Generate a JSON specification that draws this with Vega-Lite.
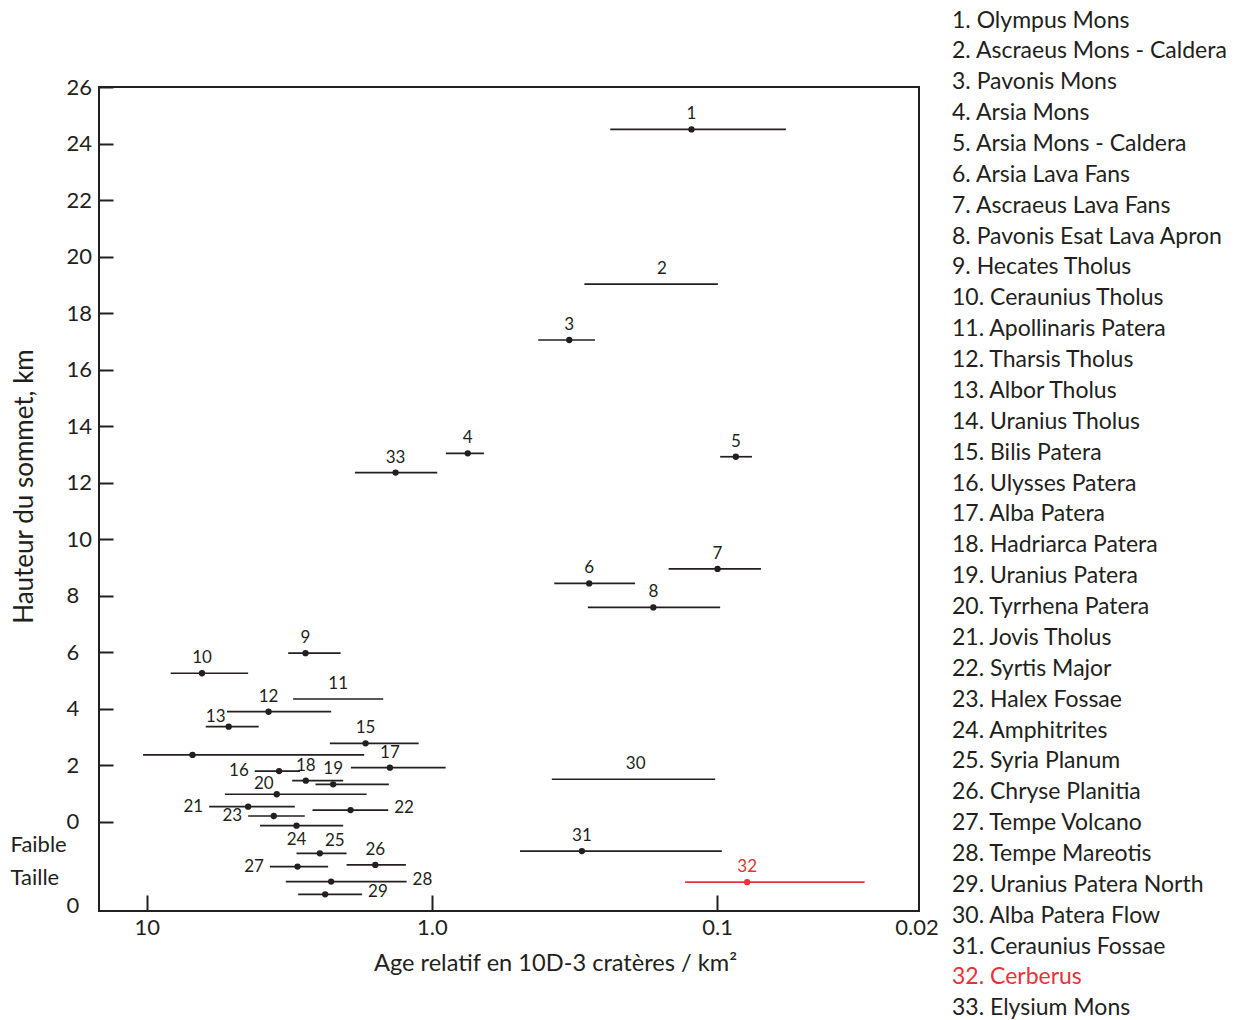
{
  "$schema": "https://vega.github.io/schema/vega-lite/v6.json",
  "width": 820,
  "height": 824,
  "autosize": "none",
  "padding": {"left": 99, "top": 87, "right": 324, "bottom": 109},
  "background": "white",
  "config": {"view": {"stroke": "#231f20", "strokeWidth": 2}, "font": "Lato"},
  "data": {"values": [
    {"id": 1, "name": "1. Olympus Mons", "age": 0.123, "ageMax": 0.237, "ageMin": 0.0574, "height": 24.5},
    {"id": 2, "name": "2. Ascraeus Mons - Caldera", "age": 0.156, "ageMax": 0.292, "ageMin": 0.0994, "height": 19.03},
    {"id": 3, "name": "3. Pavonis Mons", "age": 0.33, "ageMax": 0.424, "ageMin": 0.268, "height": 17.05},
    {"id": 4, "name": "4. Arsia Mons", "age": 0.749, "ageMax": 0.893, "ageMin": 0.657, "height": 13.04},
    {"id": 5, "name": "5. Arsia Mons - Caldera", "age": 0.086, "ageMax": 0.0976, "ageMin": 0.0755, "height": 12.92},
    {"id": 6, "name": "6. Arsia Lava Fans", "age": 0.281, "ageMax": 0.3725, "ageMin": 0.194, "height": 8.44},
    {"id": 7, "name": "7. Ascraeus Lava Fans", "age": 0.0997, "ageMax": 0.148, "ageMin": 0.0702, "height": 8.95},
    {"id": 8, "name": "8. Pavonis Esat Lava Apron", "age": 0.1674, "ageMax": 0.284, "ageMin": 0.0976, "height": 7.59},
    {"id": 9, "name": "9. Hecates Tholus", "age": 2.775, "ageMax": 3.19, "ageMin": 2.091, "height": 5.97},
    {"id": 10, "name": "10. Ceraunius Tholus", "age": 6.4, "ageMax": 8.24, "ageMin": 4.41, "height": 5.26},
    {"id": 11, "name": "11. Apollinaris Patera", "age": 2.132, "ageMax": 3.067, "ageMin": 1.482, "height": 4.35},
    {"id": 12, "name": "12. Tharsis Tholus", "age": 3.74, "ageMax": 5.23, "ageMin": 2.256, "height": 3.9},
    {"id": 13, "name": "13. Albor Tholus", "age": 5.16, "ageMax": 6.21, "ageMin": 4.05, "height": 3.37},
    {"id": 14, "name": "14. Uranius Tholus", "age": 6.91, "ageMax": 10.3, "ageMin": 1.728, "height": 2.37},
    {"id": 15, "name": "15. Bilis Patera", "age": 1.709, "ageMax": 2.28, "ageMin": 1.113, "height": 2.78},
    {"id": 16, "name": "16. Ulysses Patera", "age": 3.435, "ageMax": 4.18, "ageMin": 2.904, "height": 1.8},
    {"id": 17, "name": "17. Alba Patera", "age": 1.404, "ageMax": 1.924, "ageMin": 0.895, "height": 1.92},
    {"id": 18, "name": "18. Hadriarca Patera", "age": 2.768, "ageMax": 3.09, "ageMin": 2.047, "height": 1.46},
    {"id": 19, "name": "19. Uranius Patera", "age": 2.22, "ageMax": 2.56, "ageMin": 1.416, "height": 1.33},
    {"id": 20, "name": "20. Tyrrhena Patera", "age": 3.5, "ageMax": 5.32, "ageMin": 1.694, "height": 0.98},
    {"id": 21, "name": "21. Jovis Tholus", "age": 4.41, "ageMax": 6.04, "ageMin": 3.025, "height": 0.54},
    {"id": 22, "name": "22. Syrtis Major", "age": 1.929, "ageMax": 2.622, "ageMin": 1.423, "height": 0.42},
    {"id": 23, "name": "23. Halex Fossae", "age": 3.585, "ageMax": 4.41, "ageMin": 2.791, "height": 0.21},
    {"id": 24, "name": "24. Amphitrites", "age": 2.984, "ageMax": 4.01, "ageMin": 2.047, "height": -0.13},
    {"id": 25, "name": "25. Syria Planum", "age": 2.472, "ageMax": 2.984, "ageMin": 1.992, "height": -1.11},
    {"id": 26, "name": "26. Chryse Planitia", "age": 1.58, "ageMax": 1.992, "ageMin": 1.234, "height": -1.52},
    {"id": 27, "name": "27. Tempe Volcano", "age": 2.96, "ageMax": 3.7, "ageMin": 2.312, "height": -1.58},
    {"id": 28, "name": "28. Tempe Mareotis", "age": 2.256, "ageMax": 3.253, "ageMin": 1.227, "height": -2.11},
    {"id": 29, "name": "29. Uranius Patera North", "age": 2.368, "ageMax": 2.944, "ageMin": 1.757, "height": -2.56},
    {"id": 30, "name": "30. Alba Patera Flow", "age": 0.193, "ageMax": 0.38, "ageMin": 0.1016, "height": 1.51},
    {"id": 31, "name": "31. Ceraunius Fossae", "age": 0.298, "ageMax": 0.491, "ageMin": 0.0963, "height": -1.03},
    {"id": 32, "name": "32. Cerberus", "age": 0.0785, "ageMax": 0.1295, "ageMin": 0.0304, "height": -2.13},
    {"id": 33, "name": "33. Elysium Mons", "age": 1.341, "ageMax": 1.862, "ageMin": 0.958, "height": 12.36}
  ]},
  "encoding": {
    "x": {
      "field": "age", "type": "quantitative",
      "scale": {"type": "log", "domain": [0.0196, 14.7], "reverse": true, "nice": false},
      "axis": {
        "values": [10, 1, 0.1, 0.02],
        "labelExpr": "datum.value > 5 ? '10' : datum.value > 0.5 ? '1.0' : datum.value > 0.05 ? '0.1' : '0.02'",
        "tickSize": -16, "tickWidth": 2, "tickColor": "#231f20",
        "tickOpacity": {"condition": {"test": "datum.value < 0.05", "value": 0}, "value": 1},
        "labelPadding": 22, "labelFlush": false, "labelOverlap": false,
        "domain": false, "grid": false,
        "labelFont": "Lato", "labelFontSize": 22, "labelColor": "#231f20",
        "title": "Age relatif en 10D-3 cratères / km²",
        "titleFont": "Lato", "titleFontSize": 23.6, "titleFontWeight": "normal", "titleColor": "#231f20",
        "titleX": 456, "titleY": 59, "titleAlign": "center", "titleBaseline": "alphabetic"
      }
    },
    "y": {
      "field": "height", "type": "quantitative",
      "scale": {"domain": [-3.15, 26], "nice": false, "zero": false},
      "axis": {
        "values": [-2.97, -1.95, -0.81, 0, 2, 4, 6, 8, 10, 12, 14, 16, 18, 20, 22, 24, 26],
        "labelExpr": "datum.value < -2.5 ? '0' : datum.value < -1.5 ? 'Taille' : datum.value < -0.5 ? 'Faible' : datum.label",
        "labelAlign": "left", "labelBaseline": "middle",
        "labelPadding": {"condition": {"test": "datum.value < -0.5 && datum.value > -2.5", "value": 103}, "value": 47},
        "tickSize": -14, "tickWidth": 2, "tickColor": "#231f20",
        "tickOpacity": {"condition": {"test": "datum.value < -0.1", "value": 0}, "value": 1},
        "labelFlush": false, "labelOverlap": false,
        "domain": false, "grid": false,
        "labelFont": "Lato", "labelFontSize": 22, "labelColor": "#231f20",
        "title": "Hauteur du sommet, km",
        "titleFont": "Lato", "titleFontSize": 26, "titleFontWeight": "normal", "titleColor": "#231f20",
        "titleX": -67, "titleY": 399, "titleAngle": -90, "titleAlign": "center", "titleBaseline": "alphabetic"
      }
    },
    "color": {
      "field": "name", "type": "nominal",
      "sort": {"field": "id", "op": "min"},
      "scale": {"range": ["#231f20","#231f20","#231f20","#231f20","#231f20","#231f20","#231f20","#231f20","#231f20","#231f20","#231f20","#231f20","#231f20","#231f20","#231f20","#231f20","#231f20","#231f20","#231f20","#231f20","#231f20","#231f20","#231f20","#231f20","#231f20","#231f20","#231f20","#231f20","#231f20","#231f20","#231f20","#e63338","#231f20"]},
      "legend": {
        "orient": "none", "legendX": 830, "legendY": -78, "title": null,
        "symbolLimit": 50,
        "symbolOpacity": 0, "symbolSize": 0, "symbolStrokeWidth": 0,
        "labelFont": "Lato", "labelFontSize": 23, "labelColor": "#231f20", "labelLimit": 400,
        "labelOffset": 0, "rowPadding": 6.87, "padding": 0,
        "encode": {"labels": {"update": {"fill": {"signal": "datum.value == '32. Cerberus' ? '#e63338' : '#231f20'"}}}}
      }
    }
  },
  "layer": [
    {
      "mark": {"type": "rule", "strokeWidth": 1.7},
      "encoding": {
        "x": {"field": "ageMax", "type": "quantitative", "scale": {"type": "log", "domain": [0.0196, 14.7], "reverse": true, "nice": false},
          "axis": {
            "values": [10, 1, 0.1, 0.02],
            "labelExpr": "datum.value > 5 ? '10' : datum.value > 0.5 ? '1.0' : datum.value > 0.05 ? '0.1' : '0.02'",
            "tickSize": -16, "tickWidth": 2, "tickColor": "#231f20",
            "tickOpacity": {"condition": {"test": "datum.value < 0.05", "value": 0}, "value": 1},
            "labelPadding": 22, "labelFlush": false, "labelOverlap": false,
            "domain": false, "grid": false,
            "labelFont": "Lato", "labelFontSize": 22, "labelColor": "#231f20",
            "title": "Age relatif en 10D-3 cratères / km²",
            "titleFont": "Lato", "titleFontSize": 23.6, "titleFontWeight": "normal", "titleColor": "#231f20",
            "titleX": 456, "titleY": 59, "titleAlign": "center", "titleBaseline": "alphabetic"
          }},
        "x2": {"field": "ageMin"}
      }
    },
    {
      "transform": [{"filter": "datum.id != 2 && datum.id != 11 && datum.id != 30"}],
      "mark": {"type": "circle", "size": 40, "opacity": 1}
    },
    {
      "transform": [{"filter": "indexof([1,2,3,4,5,6,7,8,9,10,11,12,15,17,18,19,26,30,31,32,33], datum.id) >= 0"}],
      "mark": {"type": "text", "fontSize": 17, "font": "Lato", "align": "center", "baseline": "middle", "dy": -15},
      "encoding": {"text": {"field": "id", "type": "nominal"}}
    },
    {
      "transform": [{"filter": "datum.id == 13 || datum.id == 20"}],
      "mark": {"type": "text", "fontSize": 17, "font": "Lato", "align": "center", "baseline": "middle", "dx": -13, "dy": -10},
      "encoding": {"text": {"field": "id", "type": "nominal"}}
    },
    {
      "transform": [{"filter": "datum.id == 25"}],
      "mark": {"type": "text", "fontSize": 17, "font": "Lato", "align": "center", "baseline": "middle", "dx": 15, "dy": -12},
      "encoding": {"text": {"field": "id", "type": "nominal"}}
    },
    {
      "transform": [{"filter": "datum.id == 24"}],
      "mark": {"type": "text", "fontSize": 17, "font": "Lato", "align": "center", "baseline": "middle", "dy": 14},
      "encoding": {"text": {"field": "id", "type": "nominal"}}
    },
    {
      "transform": [{"filter": "indexof([16,21,23,27], datum.id) >= 0"}],
      "mark": {"type": "text", "fontSize": 17, "font": "Lato", "align": "right", "baseline": "middle", "dx": -6},
      "encoding": {
        "x": {"field": "ageMax", "type": "quantitative", "scale": {"type": "log", "domain": [0.0196, 14.7], "reverse": true, "nice": false}},
        "text": {"field": "id", "type": "nominal"}
      }
    },
    {
      "transform": [{"filter": "indexof([22,28,29], datum.id) >= 0"}],
      "mark": {"type": "text", "fontSize": 17, "font": "Lato", "align": "left", "baseline": "middle", "dx": 6, "dy": -2},
      "encoding": {
        "x": {"field": "ageMin", "type": "quantitative", "scale": {"type": "log", "domain": [0.0196, 14.7], "reverse": true, "nice": false}},
        "text": {"field": "id", "type": "nominal"}
      }
    }
  ]
}
